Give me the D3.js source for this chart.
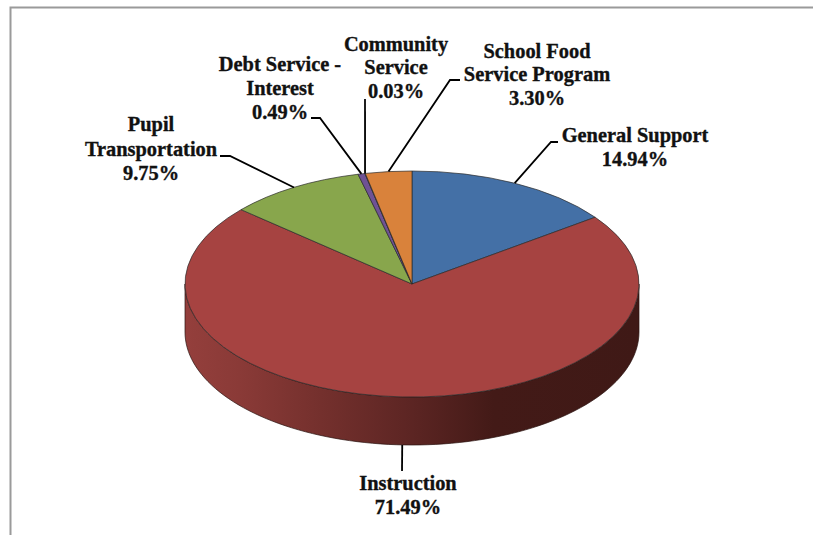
<!DOCTYPE html>
<html>
<head>
<meta charset="utf-8">
<script src="https://cdn.jsdelivr.net/npm/d3@7"></script>
<style>
  html, body { margin: 0; padding: 0; background: #fff; }
  svg { display: block; }
  text { font-family: "Liberation Serif", serif; font-weight: 700; font-size: 20.4px; fill: #111; stroke: #111; stroke-width: 0.35px; text-anchor: middle; }
</style>
</head>
<body>
<svg id="chart" width="813" height="535"></svg>
<script>
// Budget shares, clockwise from twelve o'clock
const categories = ["General Support", "Instruction", "Pupil Transportation", "Debt Service - Interest", "Community Service", "School Food Service Program"];
const shares = [14.94, 71.49, 9.75, 0.49, 0.03, 3.30];
const shareLabels = ["14.94%", "71.49%", "9.75%", "0.49%", "0.03%", "3.30%"];
const sliceColors = ["#4470a6", "#a64341", "#88a64c", "#6f5295", "#3f95ad", "#d9823b"];

// Line breaks of each label
const labelLines = [
  ["General Support"],
  ["Instruction"],
  ["Pupil", "Transportation"],
  ["Debt Service -", "Interest"],
  ["Community", "Service"],
  ["School Food", "Service Program"]
];

// Label anchor (centre x, first baseline, line step) and leader bend points
const labelLayout = [
  { x: 635, y: 141.5, step: 24, bends: [[551, 142], [558, 142]] },
  { x: 408, y: 490, step: 24, bends: [[402, 471]] },
  { x: 151, y: 131, step: 24.5, bends: [[230, 156], [220, 156]] },
  { x: 280, y: 70.5, step: 24, bends: [[320, 118], [311, 118]] },
  { x: 396, y: 50.5, step: 23.5, bends: [[365, 99]] },
  { x: 537, y: 57.5, step: 23.5, bends: [[450, 80], [460, 80]] }
];

const svg = d3.select("#chart");
const cx = 412, cy = 284, rx = 227, ry = 113, depth = 48;

// Thin frame along the top and left
svg.append("path")
  .attr("d", d3.line()([[10.5, 535], [10.5, 7.5], [813, 7.5]]))
  .attr("fill", "none").attr("stroke", "#9a9a9a").attr("stroke-width", 2);

const pie = d3.pie().sort(null).value(d => d)(shares);
const rimX = a => cx + rx * Math.sin(a);
const rimY = a => cy - ry * Math.cos(a);

// Shaded wall running under the front of the disc
const wallShade = svg.append("defs").append("linearGradient")
  .attr("id", "wallShade").attr("gradientUnits", "userSpaceOnUse")
  .attr("x1", cx - rx).attr("x2", cx + rx).attr("y1", 0).attr("y2", 0);
[[0, "#943f3c"], [0.12, "#8a3a37"], [0.3, "#74302d"], [0.5, "#5c2523"], [0.68, "#431a17"], [1, "#3f1916"]]
  .forEach(([o, c]) => wallShade.append("stop").attr("offset", o).attr("stop-color", c));

const front = d3.range(Math.PI / 2, 3 * Math.PI / 2 + 0.001, Math.PI / 90);
const wallPts = front.map(a => [rimX(a), rimY(a)])
  .concat(front.slice().reverse().map(a => [rimX(a), rimY(a) + depth]));
svg.append("path")
  .attr("d", d3.line()(wallPts) + "Z")
  .attr("fill", "url(#wallShade)")
  .attr("stroke", "#2a1210").attr("stroke-width", 0.7);

// Top face: a circular pie flattened into an ellipse
const arc = d3.arc().innerRadius(0).outerRadius(rx);
svg.append("g")
  .attr("transform", `translate(${cx},${cy}) scale(1,${ry / rx})`)
  .selectAll("path").data(pie).join("path")
  .attr("d", arc)
  .attr("fill", (d, i) => sliceColors[i])
  .attr("stroke", "#2b2b2b").attr("stroke-width", 0.7)
  .attr("vector-effect", "non-scaling-stroke");

// Leader lines from each slice rim out to its label
pie.forEach((d, i) => {
  const mid = (d.startAngle + d.endAngle) / 2;
  const onFront = Math.cos(mid) < 0;
  const start = [rimX(mid), rimY(mid) + (onFront ? depth : 0)];
  svg.append("path")
    .attr("d", d3.line()([start, ...labelLayout[i].bends]))
    .attr("fill", "none").attr("stroke", "#000").attr("stroke-width", 1.8);
});

// Labels: name lines followed by the percentage
categories.forEach((name, i) => {
  const { x, y, step } = labelLayout[i];
  const t = svg.append("text").attr("aria-label", name);
  labelLines[i].concat(shareLabels[i]).forEach((line, k) => {
    t.append("tspan").attr("x", x).attr("y", y + k * step).text(line);
  });
});
</script>
</body>
</html>
